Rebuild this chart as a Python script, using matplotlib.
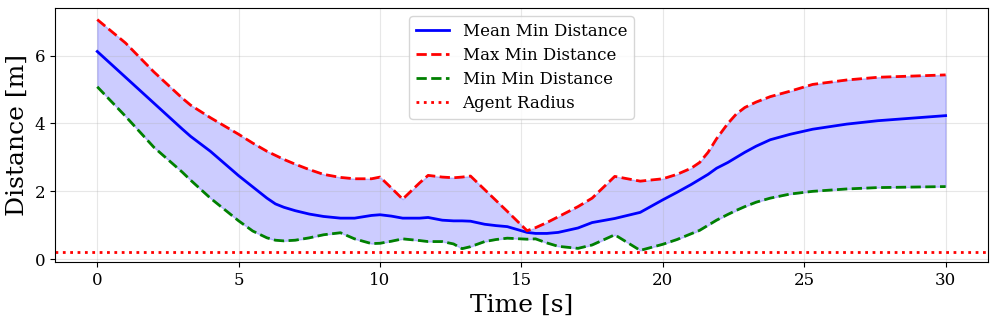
import numpy as np
import matplotlib
matplotlib.use("Agg")
import matplotlib.pyplot as plt

plt.rcParams['font.family'] = 'DejaVu Serif'

# time [s]
time = [0, 1, 2, 3, 3.3, 4,
        5, 5.5, 6, 6.3, 6.6, 7, 7.5, 8, 8.6,
        9.1, 9.7, 10, 10.4, 10.8,
        11.4, 11.7, 12.2, 12.6, 12.9, 13.2,
        13.7, 14.1, 14.5, 15.2, 15.5, 15.9, 16.3,
        17, 17.5, 18.3, 19.2, 20, 20.5,
        21, 21.3, 21.6, 21.9, 22.3, 22.6, 22.9,
        23.3, 23.8, 24.5, 25.3, 26.5, 27.6, 30]

max_dist = [7.06, 6.37, 5.52, 4.75, 4.54, 4.17,
            3.68, 3.42, 3.18, 3.06, 2.94, 2.80, 2.64, 2.50, 2.41,
            2.37, 2.37, 2.42, 2.10, 1.77,
            2.25, 2.47, 2.42, 2.40, 2.42, 2.45,
            2.05, 1.73, 1.41, 0.84, 0.93, 1.08, 1.25,
            1.55, 1.80, 2.44, 2.30, 2.37, 2.50,
            2.68, 2.85, 3.15, 3.55, 4.00, 4.28, 4.47,
            4.63, 4.79, 4.95, 5.15, 5.28, 5.36, 5.43]

mean_dist = [6.12, 5.36, 4.60, 3.84, 3.62, 3.18,
             2.46, 2.13, 1.80, 1.63, 1.53, 1.43, 1.33, 1.26, 1.21,
             1.21, 1.29, 1.31, 1.27, 1.21,
             1.21, 1.23, 1.15, 1.13, 1.13, 1.12,
             1.03, 0.99, 0.96, 0.79, 0.76, 0.76, 0.79,
             0.92, 1.08, 1.20, 1.38, 1.75, 1.97,
             2.20, 2.35, 2.50, 2.68, 2.85, 3.00, 3.15,
             3.33, 3.52, 3.68, 3.83, 3.98, 4.08, 4.23]

min_dist = [5.08, 4.21, 3.30, 2.57, 2.33, 1.80,
            1.13, 0.83, 0.63, 0.56, 0.54, 0.56, 0.63, 0.72, 0.78,
            0.60, 0.46, 0.47, 0.53, 0.60,
            0.55, 0.52, 0.52, 0.45, 0.31, 0.37,
            0.52, 0.58, 0.62, 0.59, 0.60, 0.48, 0.38,
            0.32, 0.42, 0.72, 0.26, 0.44, 0.58,
            0.75, 0.85, 1.00, 1.15, 1.32, 1.44, 1.55,
            1.68, 1.80, 1.92, 2.00, 2.07, 2.11, 2.14]

agent_radius = 0.2

fig, ax = plt.subplots(figsize=(9.97, 3.21), dpi=100)
fig.subplots_adjust(left=0.055, right=0.991, top=0.975, bottom=0.184)

ax.plot(time, mean_dist, color='blue', linewidth=2, label='Mean Min Distance')
ax.plot(time, max_dist, 'r--', linewidth=2, label='Max Min Distance')
ax.plot(time, min_dist, 'g--', linewidth=2, label='Min Min Distance')
ax.fill_between(time, min_dist, max_dist, color='blue', alpha=0.2)
ax.axhline(agent_radius, color='red', linestyle=':', linewidth=2, label='Agent Radius')

ax.set_xlabel('Time [s]', fontsize=18)
ax.set_ylabel('Distance [m]', fontsize=18)
ax.tick_params(labelsize=12)
ax.grid(True, alpha=0.3)
ax.legend(loc='upper center', fontsize=12, labelspacing=0.42)

fig.savefig('out.png', dpi=100)
